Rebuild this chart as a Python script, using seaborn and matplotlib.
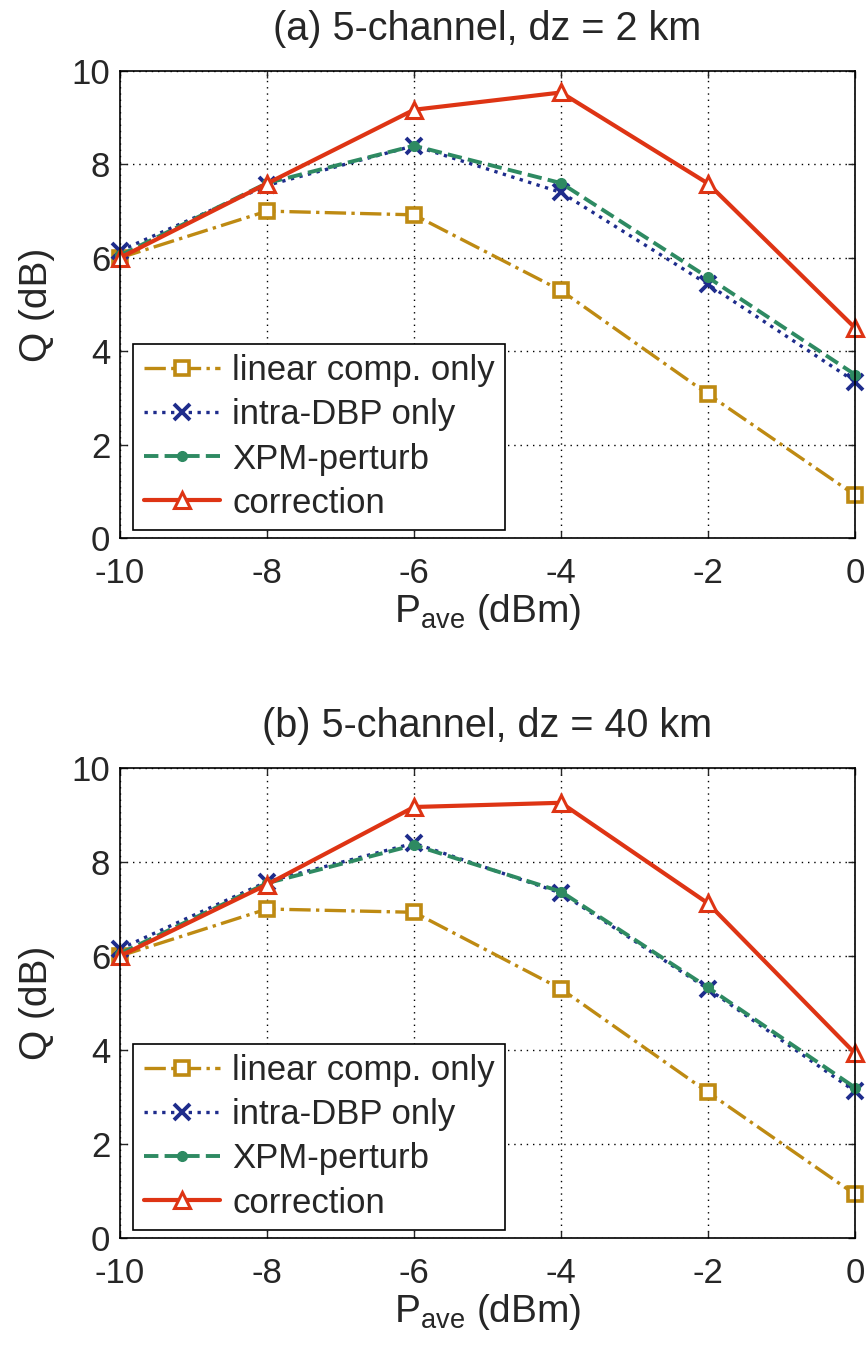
import matplotlib
matplotlib.use("Agg")
import matplotlib.pyplot as plt
import seaborn as sns
import pandas as pd

p_ave = [-10, -8, -6, -4, -2, 0]
series_names = ["linear comp. only", "intra-DBP only", "XPM-perturb", "correction"]

# panel (a) dz = 2 km
a_linear = [6.0, 7.0, 6.92, 5.3, 3.08, 0.92]
a_intra = [6.15, 7.55, 8.4, 7.4, 5.43, 3.35]
a_xpm = [6.05, 7.6, 8.4, 7.6, 5.58, 3.5]
a_corr = [6.0, 7.59, 9.17, 9.54, 7.59, 4.5]

# panel (b) dz = 40 km
b_linear = [6.0, 7.0, 6.93, 5.3, 3.1, 0.93]
b_intra = [6.15, 7.58, 8.4, 7.34, 5.3, 3.12]
b_xpm = [6.05, 7.55, 8.36, 7.37, 5.33, 3.2]
b_corr = [6.0, 7.52, 9.17, 9.26, 7.12, 3.93]

titles = ["(a) 5-channel, dz = 2 km", "(b) 5-channel, dz = 40 km"]
x_ticks = [-10, -8, -6, -4, -2, 0]
y_ticks = [0, 2, 4, 6, 8, 10]

sns.set_theme(style="white")
plt.rcParams["font.family"] = ["Liberation Sans", "DejaVu Sans"]
plt.rcParams["mathtext.fontset"] = "custom"
plt.rcParams["mathtext.rm"] = "Liberation Sans"
plt.rcParams["mathtext.it"] = "Liberation Sans"
plt.rcParams["axes.unicode_minus"] = False

c_lin = "#BE8A12"
c_intra = "#1E2C8C"
c_xpm = "#2E8A62"
c_corr = "#DE3414"

styles = [
    dict(color=c_lin, linestyle="-.", marker="s", markersize=10, markerfacecolor="white",
         markeredgecolor=c_lin, markeredgewidth=2.6, linewidth=2.4),
    dict(color=c_intra, linestyle=":", marker="x", markersize=11, markeredgecolor=c_intra,
         markeredgewidth=2.8, linewidth=2.4),
    dict(color=c_xpm, linestyle="--", marker="o", markersize=7, markerfacecolor=c_xpm,
         markeredgecolor=c_xpm, markeredgewidth=1, linewidth=2.8),
    dict(color=c_corr, linestyle="-", marker="^", markersize=12, markerfacecolor="white",
         markeredgecolor=c_corr, markeredgewidth=2.2, linewidth=3.0),
]

W, H = 868, 1349
fig = plt.figure(figsize=(W / 100, H / 100), dpi=100)
ax_a = fig.add_axes([120 / W, 1 - 538 / H, 735 / W, 467 / H])
ax_b = fig.add_axes([120 / W, 1 - 1238 / H, 735 / W, 470 / H])

panels = [(ax_a, [a_linear, a_intra, a_xpm, a_corr]),
          (ax_b, [b_linear, b_intra, b_xpm, b_corr])]

for i, (ax, data) in enumerate(panels):
    for name, vals, st in zip(series_names, data, styles):
        df = pd.DataFrame({"P": p_ave, "Q": vals})
        sns.lineplot(data=df, x="P", y="Q", ax=ax, label=name, clip_on=False, **st)
    ax.set_xlim(-10, 0)
    ax.set_ylim(0, 10)
    ax.set_xticks(x_ticks)
    ax.set_yticks(y_ticks)
    ax.tick_params(direction="in", length=5, labelsize=25, width=1,
                   top=True, right=True, bottom=True, left=True)
    ax.tick_params(axis="x", pad=14)
    ax.tick_params(axis="y", pad=7)
    ax.grid(True, color="black", linestyle=(0, (1, 3.5)), linewidth=1.0)
    for s in ax.spines.values():
        s.set_color("black")
        s.set_linewidth(1.2)
    ax.set_title(titles[i], fontsize=28.5, pad=22)
    ax.set_ylabel("Q (dB)", fontsize=28, labelpad=12)
    ax.set_xlabel(r"P$_{\mathrm{ave}}$ (dBm)", fontsize=28, labelpad=1)
    leg = ax.legend(loc="lower left", bbox_to_anchor=(0.018, 0.017), fontsize=25,
                    frameon=True, fancybox=False, edgecolor="black", framealpha=1,
                    handlelength=2.2, handletextpad=0.35, borderpad=0.3,
                    labelspacing=0.32, borderaxespad=0)
    leg.get_frame().set_linewidth(1.2)

fig.savefig("out.png", dpi=100)
